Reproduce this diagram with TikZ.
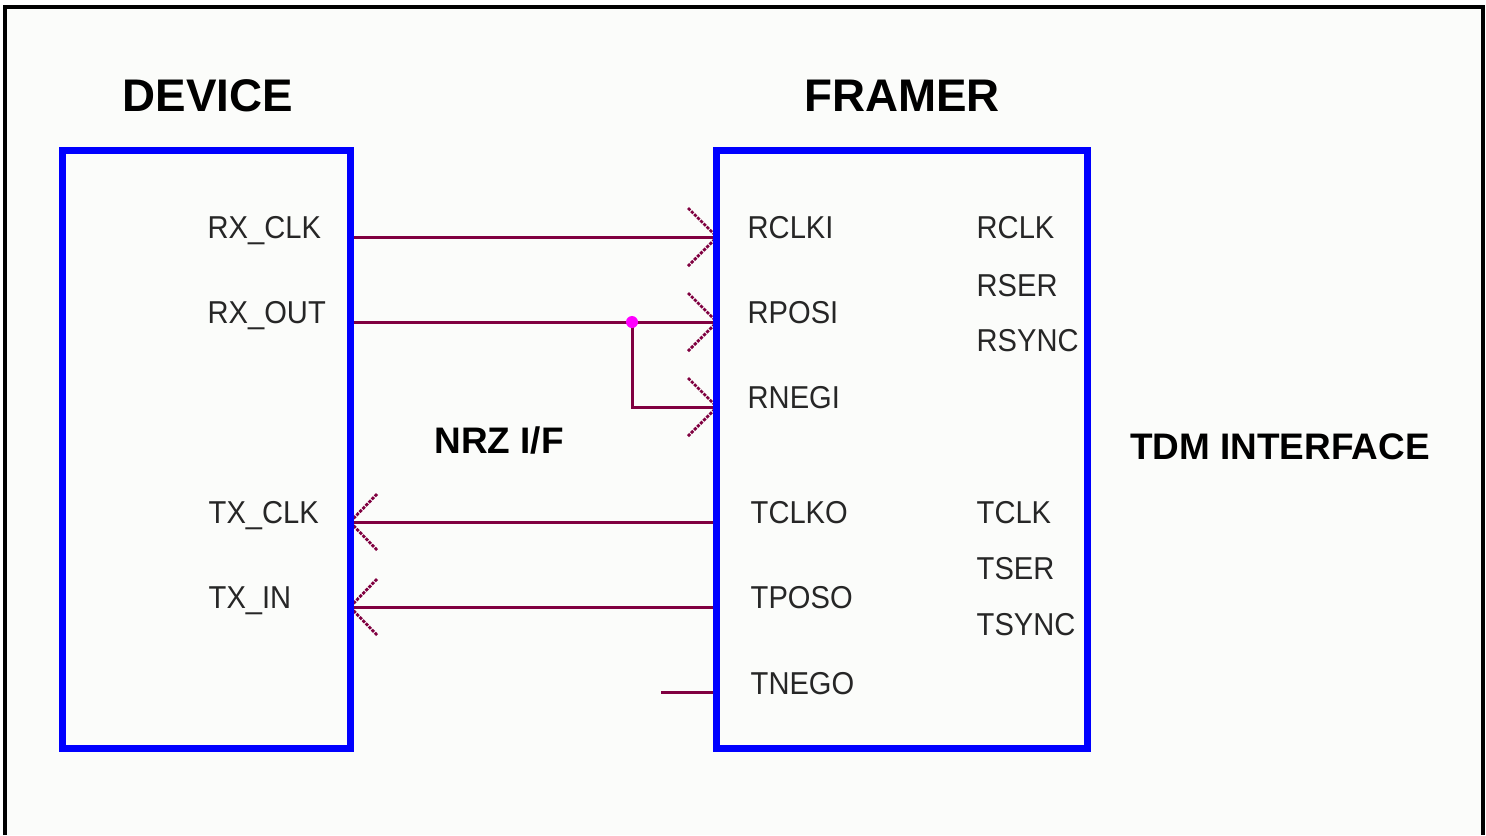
\documentclass[tikz,border=0pt]{standalone}
\usepackage{fontspec}
\setmainfont{Liberation Sans}
\newfontfamily\pinfont[FakeStretch=0.92]{Liberation Sans}
\usetikzlibrary{calc}
\definecolor{wire}{RGB}{128,0,64}
\definecolor{bg}{RGB}{251,252,250}
\definecolor{junction}{RGB}{255,0,255}
\begin{document}
\begin{tikzpicture}[x=0.01cm,y=-0.01cm,
  box/.style={draw=blue, line width=2pt, rectangle, inner sep=0pt, outer sep=0pt},
  wirel/.style={draw=wire, line width=0.85pt},
  barbl/.style={draw=wire, line width=0.8pt, dash pattern=on 0.9pt off 0.35pt},
  pinlbl/.style={anchor=base west, inner sep=0pt, font=\pinfont\fontsize{9}{10}\selectfont, text=black!85},
  titlelbl/.style={anchor=base, inner sep=0pt, font=\fontsize{13}{14}\selectfont\bfseries},
  sublbl/.style={anchor=base, inner sep=0pt, font=\fontsize{10.5}{12}\selectfont\bfseries}]
\useasboundingbox (0,0) rectangle (1486,835);
\fill[white] (0,0) rectangle (1486,835);
\fill[bg] (5,7) rectangle (1483,835);
\draw[black, line width=0.9pt] (5,835) -- (5,7) -- (1483,7) -- (1483,835);

% titles
\node[titlelbl] (tdev) at (208,111) {DEVICE};
\node[titlelbl] (tfra) at (902,111) {FRAMER};
\node[sublbl] (tnrz) at (499,453) {NRZ I/F};
\node[sublbl] (ttdm) at (1280,459) {TDM INTERFACE};

% pin points
\coordinate (dRXCLK) at (350,237);
\coordinate (dRXOUT) at (350,322);
\coordinate (dTXCLK) at (350,522);
\coordinate (dTXIN)  at (350,607);
\coordinate (fRCLKI) at (717,237);
\coordinate (fRPOSI) at (717,322);
\coordinate (fRNEGI) at (717,407);
\coordinate (fTCLKO) at (717,522);
\coordinate (fTPOSO) at (717,607);
\coordinate (fTNEGO) at (717,692);
\coordinate (tnegoEnd) at (661,692);
\coordinate (jct) at (632,322);
\coordinate (jctDown) at (632,407);

% connectors
\draw[wirel] (dRXCLK) -- (fRCLKI);
\draw[wirel] (dRXOUT) -- (fRPOSI);
\draw[wirel] (jct) -- (jctDown) -- (fRNEGI);
\draw[wirel] (fTCLKO) -- (dTXCLK);
\draw[wirel] (fTPOSO) -- (dTXIN);
\draw[wirel] (tnegoEnd) -- (fTNEGO);

% arrow barbs
\foreach \p in {fRCLKI,fRPOSI,fRNEGI}{
  \draw[barbl] ($(\p)+(-29,-29)$) -- (\p) -- ($(\p)+(-29,29)$);
}
\foreach \p in {dTXCLK,dTXIN}{
  \draw[barbl] ($(\p)+(27,-28)$) -- (\p) -- ($(\p)+(27,28)$);
}
\fill[junction] (jct) circle (6);

% boxes
\node[box, minimum width=2.87cm, minimum height=5.97cm] (device) at (206.5,449.5) {};
\node[box, minimum width=3.70cm, minimum height=5.97cm] (framer) at (902,449.5) {};

% device pin labels
\node[pinlbl] (lRXCLK) at (207,238) {RX\_CLK};
\node[pinlbl] (lRXOUT) at (207,323) {RX\_OUT};
\node[pinlbl] (lTXCLK) at (208,523) {TX\_CLK};
\node[pinlbl] (lTXIN)  at (208,608) {TX\_IN};

% framer pin labels
\node[pinlbl] (lRCLKI) at (747,238) {RCLKI};
\node[pinlbl] (lRPOSI) at (747,323) {RPOSI};
\node[pinlbl] (lRNEGI) at (747,408) {RNEGI};
\node[pinlbl] (lTCLKO) at (750,523) {TCLKO};
\node[pinlbl] (lTPOSO) at (750,608) {TPOSO};
\node[pinlbl] (lTNEGO) at (750,694) {TNEGO};

\node[pinlbl] (lRCLK)  at (976,238) {RCLK};
\node[pinlbl] (lRSER)  at (976,296) {RSER};
\node[pinlbl] (lRSYNC) at (976,351) {RSYNC};
\node[pinlbl] (lTCLK)  at (976,523) {TCLK};
\node[pinlbl] (lTSER)  at (976,579) {TSER};
\node[pinlbl] (lTSYNC) at (976,635) {TSYNC};
\end{tikzpicture}
\end{document}
